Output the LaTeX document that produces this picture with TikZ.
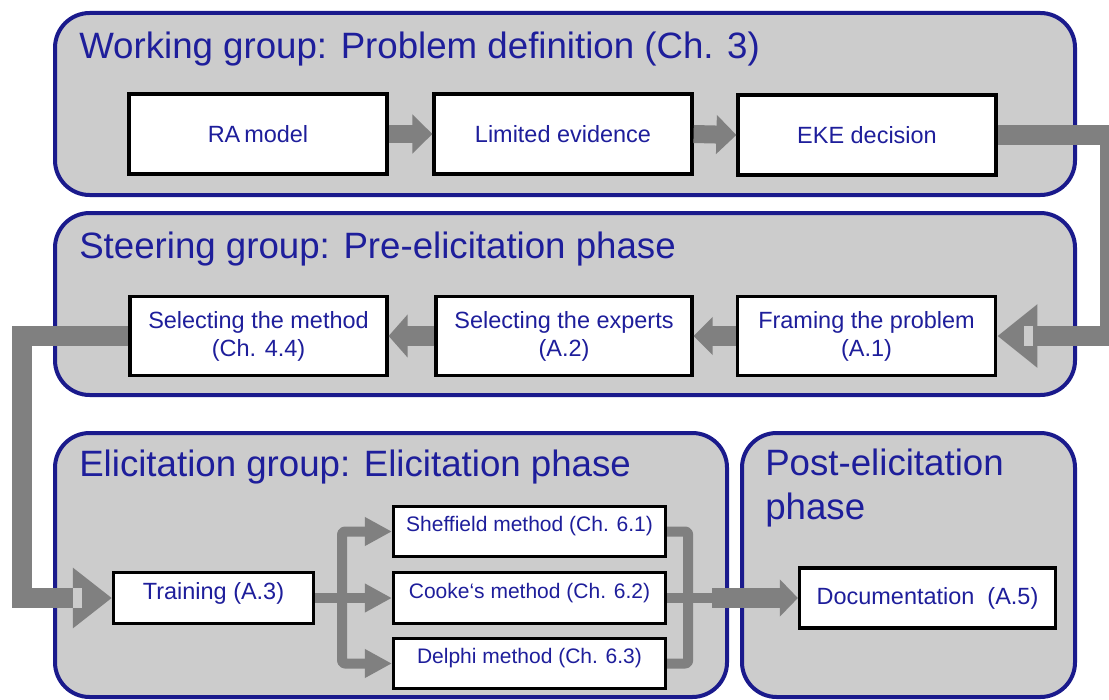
\documentclass[tikz,border=0pt]{standalone}
\usepackage{fontspec}
\setmainfont{Liberation Sans}
\usetikzlibrary{arrows.meta,calc}
\definecolor{navy}{RGB}{26,26,140}
\definecolor{txt}{RGB}{30,30,155}
\definecolor{grpfill}{RGB}{204,204,204}
\definecolor{arr}{RGB}{128,128,128}
\begin{document}
\begin{tikzpicture}[x=0.75pt,y=-0.75pt,
  group/.style={draw=navy, fill=grpfill, line width=3pt, rounded corners=26pt},
  title/.style={text=txt, inner sep=0pt, font=\fontsize{27.5}{32.5}\selectfont, align=left},
  box/.style={draw=black, fill=white, line width=2.4pt, inner sep=0pt, text=txt,
    align=center, font=\fontsize{17.6}{21}\selectfont},
  mbox/.style={box, font=\fontsize{15.75}{19}\selectfont, text height=12pt, text depth=12pt},
  upt/.style={text height=13pt, text depth=11pt},
  conn/.style={draw=arr, line join=miter},
  fan/.style={draw=arr, line width=7.5pt, line join=round, rounded corners=2pt},
  fanhead/.style={-{Triangle[width=20.25pt,length=20.25pt]}}
]
\useasboundingbox (0,0) rectangle (1109,699);

% group panels
\path[group] (55,13) rectangle (1075,195);
\path[group] (55,213) rectangle (1075,395);
\path[group] (55,433) rectangle (727,697);
\path[group] (742,433) rectangle (1075,697);

% titles
\node[title, anchor=base west] (t1) at (79,59) {Working group: Problem definition (Ch. 3)};
\node[title, anchor=base west] (t2) at (79,258) {Steering group: Pre-elicitation phase};
\node[title, anchor=base west] (t3) at (79,476) {Elicitation group: Elicitation phase};
\node[title, anchor=north west] (t4) at (765,449) {Post-elicitation\\phase};

% row 1
\node[box, minimum width=193.5pt, minimum height=60pt] (ra) at (258,134) {RA\,model};
\node[box, minimum width=193.5pt, minimum height=60pt] (le) at (563,134) {Limited evidence};
\node[box, minimum width=193.5pt, minimum height=60pt] (eke) at (867,135) {EKE decision};

% row 2
\node[box, minimum width=192.75pt, minimum height=59pt] (mt) at (258.5,336) {Selecting the method\\(Ch. 4.4)};
\node[box, minimum width=192pt, minimum height=59pt] (ex) at (564,336) {Selecting the experts\\(A.2)};
\node[box, minimum width=194pt, minimum height=59pt] (fr) at (866.5,336) {Framing the problem\\(A.1)};

% elicitation
\node[box, upt, minimum width=150pt, minimum height=38.5pt] (tr) at (213.5,598) {Training (A.3)};
\node[mbox, minimum width=204pt, minimum height=38pt] (s1) at (529.5,531.5) {Sheffield method (Ch. 6.1)};
\node[mbox, minimum width=204pt, minimum height=38pt] (s2) at (529.5,598) {Cooke‘s method (Ch. 6.2)};
\node[mbox, minimum width=204pt, minimum height=38pt] (s3) at (529.5,663.5) {Delphi method (Ch. 6.3)};

% post-elicitation
\node[box, minimum width=192pt, minimum height=45pt] (doc) at (927.5,598) {Documentation\ \ (A.5)};

% row 1 arrows
\draw[conn, line width=13.5pt, -{Triangle[width=28.5pt,length=15pt]}] (ra.east) -- (le.west);
\draw[conn, line width=13.5pt, -{Triangle[width=28.5pt,length=15pt]}] (le.east) -- (eke.west);

% row 2 arrows
\draw[conn, line width=15pt, -{Triangle[width=27.75pt,length=14.25pt]}] (fr.west) -- (ex.east);
\draw[conn, line width=15pt, -{Triangle[width=31.5pt,length=14.25pt]}] (ex.west) -- (mt.east);

% connector EKE -> framing
\coordinate (redge) at (1110,0);
\draw[conn, line width=15pt, -{Triangle[width=45.75pt,length=30pt]}]
  (eke.east) -| (fr.east -| redge) -- (fr.east);
\fill[grpfill] (1024,326) rectangle (1033,346);

% connector method -> training
\coordinate (ledge) at (22,0);
\draw[conn, line width=15pt, -{Triangle[width=43.5pt,length=29.25pt]}]
  (mt.west) -| (tr.west -| ledge) -- (tr.west);
\fill[grpfill] (73,588) rectangle (82,608);

% fan out
\coordinate (fo) at ($(tr.east)+(27,0)$);
\draw[fan, fanhead] (fo) |- (s1.west);
\draw[fan, fanhead] (fo) |- (s3.west);
\draw[fan, fanhead] (tr.east) -- (s2.west);

% fan in
\coordinate (fi) at ($(s2.east)+(21,0)$);
\coordinate (fj) at ($(s2.east)+(45,0)$);
\draw[fan] (s1.east) -| (fi);
\draw[fan] (s3.east) -| (fi);
\draw[fan] (s2.east) -- (fj);
\draw[conn, line width=15pt, -{Triangle[width=27pt,length=13.5pt]}] (fj) -- (doc.west);
\end{tikzpicture}
\end{document}
